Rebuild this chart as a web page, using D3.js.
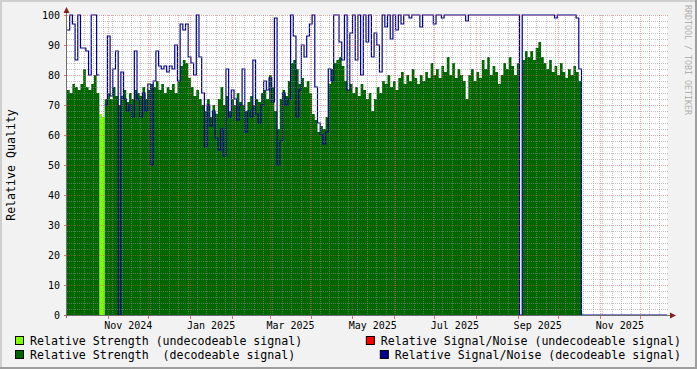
<!DOCTYPE html>
<html><head><meta charset="utf-8">
<script src="https://cdn.jsdelivr.net/npm/d3@7"></script>
<style>html,body{margin:0;padding:0;background:#f2f2f2;}svg{display:block;}text{white-space:pre;}</style>
</head><body><svg id="c" width="697" height="369"></svg>
<script>
// ---- data (one sample every 2 days, starting 2024-10-01 12:00 UTC) ----
const sampleStart = "2024-10-01T12:00:00Z";
const sampleStepDays = 2;
const rangeEnd = "2025-12-21T00:00:00Z";

const strengthDecodable = [
  75,74,77,76,75,77,82,76,75,77,
  80,74,null,null,72,74,72,76,73,70,
  73,75,71,74,72,75,74,73,76,72,
  75,77,76,78,75,77,74,76,75,77,
  74,78,83,85,84,79,76,73,75,72,
  70,68,72,66,70,67,72,76,70,73,
  68,72,70,74,71,70,68,71,73,70,
  72,71,74,75,72,80,76,68,62,72,
  75,73,78,84,85,82,77,79,76,78,
  74,67,65,61,63,62,66,77,82,84,
  85,86,83,78,75,77,74,76,73,77,
  75,72,74,68,72,76,74,78,77,80,
  76,78,75,79,81,77,80,78,82,79,
  77,80,78,81,79,84,80,82,79,83,
  81,86,80,84,79,82,80,78,72,80,
  82,78,81,79,85,82,86,80,83,81,
  77,80,84,82,86,83,80,84,null,85,
  88,86,88,85,89,91,86,84,82,85,
  81,83,80,84,81,79,82,80,83,81,
  78
];
// [sample index, value] – only a few samples were undecodeable
const strengthUndecodable = [[12, 67], [13, 66]];

const snrDecodable = [
  95,100,97,85,100,89,89,88,80,100,
  100,80,null,null,70,93,73,82,88,0,
  81,72,68,70,66,88,72,66,74,68,
  77,50,78,88,83,82,83,81,83,82,
  90,78,97,95,97,86,84,80,100,86,
  74,56,70,63,68,59,55,62,53,82,
  66,75,72,65,70,82,61,68,66,85,
  67,64,70,78,75,79,71,99,50,58,
  74,70,72,100,93,66,75,90,86,93,
  97,100,76,64,60,57,61,82,78,100,
  100,91,85,100,75,94,100,85,100,80,
  100,91,100,86,94,90,81,100,96,100,
  92,100,95,100,97,100,100,99,100,100,
  100,96,100,100,100,100,97,100,100,99,
  100,100,100,100,100,100,100,100,98,100,
  100,100,100,100,100,100,100,100,100,100,
  100,100,100,100,100,100,100,100,0,100,
  100,100,100,100,100,100,100,100,100,100,
  100,99,100,100,100,100,100,100,100,99,
  82,
  0,0,0,0,0,0,0,0,0,0,0,0,0,0,0,0,
  0,0,0,0,0,0,0,0,0,0,0,0,0,0,0,0
];
const snrUndecodable = []; // no undecodeable S/N samples in range

const yTickValues = [0,10,20,30,40,50,60,70,80,90,100];
const xLabels = ["Nov 2024","Jan 2025","Mar 2025","May 2025","Jul 2025","Sep 2025","Nov 2025"];

const legendItems = [
  {label:"Relative Strength (undecodeable signal)", color:"#80ff00", row:0, side:"left"},
  {label:"Relative Signal/Noise (undecodeable signal)", color:"#ff0000", row:0, side:"right"},
  {label:"Relative Strength  (decodeable signal)", color:"#006600", row:1, side:"left"},
  {label:"Relative Signal/Noise (decodeable signal)", color:"#000090", row:1, side:"right"}
];

// ---- layout ----
const W = 697, H = 369;
const L = 67, R = 667, T = 15, B = 315;
const svg = d3.select("#c");
const FONT = "'DejaVu Sans Mono', monospace";

const t0 = new Date(sampleStart);
const tEnd = new Date(rangeEnd);
const tOf = k => d3.utcDay.offset(t0, k * sampleStepDays);
const x = d3.scaleUtc().domain([t0, tEnd]).range([L, R]);
const y = d3.scaleLinear().domain([0, 100]).range([B, T]);

// background + frame
svg.append("rect").attr("width", W).attr("height", H).attr("fill", "#f2f2f2");
svg.append("rect").attr("x",0).attr("y",0).attr("width",W).attr("height",2).attr("fill","#cfcfcf");
svg.append("rect").attr("x",0).attr("y",0).attr("width",2).attr("height",H).attr("fill","#cfcfcf");
svg.append("rect").attr("x",0).attr("y",H-2).attr("width",W).attr("height",2).attr("fill","#9e9e9e");
svg.append("rect").attr("x",W-2).attr("y",0).attr("width",2).attr("height",H).attr("fill","#9e9e9e");
// canvas
svg.append("rect").attr("x", L).attr("y", T).attr("width", R - L).attr("height", B - T).attr("fill", "#fff");

svg.append("clipPath").attr("id","plot").append("rect")
  .attr("x", L).attr("y", T - 2).attr("width", R - L).attr("height", B - T + 3);

function stepPoints(values) {
  const pts = [];
  values.forEach((v, k) => {
    if (v == null) { pts.push({t: tOf(k), v: null}); return; }
    pts.push({t: tOf(k), v});
    if (values[k + 1] == null) { pts.push({t: tOf(k + 1), v}); pts.push({t: tOf(k + 1), v: null}); }
  });
  return pts;
}
const undecArr = strengthDecodable.map(() => null);
strengthUndecodable.forEach(([k, v]) => { undecArr[k] = v; });

const area = d3.area().curve(d3.curveStepAfter)
  .defined(d => d.v != null).x(d => x(d.t)).y0(y(0)).y1(d => y(d.v));
const line = d3.line().curve(d3.curveStepAfter)
  .defined(d => d.v != null).x(d => x(d.t)).y(d => y(d.v));

const gPlot = svg.append("g").attr("clip-path", "url(#plot)");
gPlot.append("path").attr("d", area(stepPoints(undecArr))).attr("fill", legendItems[0].color);
gPlot.append("path").attr("d", area(stepPoints(strengthDecodable))).attr("fill", legendItems[2].color);

// grid
const minorCol = "rgba(143,143,143,0.55)", majorCol = "rgba(222,79,79,0.5)";
const gGrid = svg.append("g").attr("stroke-dasharray", "1,1").attr("stroke-width", 1);
const px = v => Math.round(v) + 0.5;
d3.range(2, 101, 2).filter(v => v % 10 !== 0).forEach(v => {
  gGrid.append("line").attr("x1", L).attr("x2", R + 1).attr("y1", px(y(v))).attr("y2", px(y(v)))
    .attr("stroke", minorCol);
});
d3.utcMonday.range(t0, tEnd).forEach(d => {
  if (d.getUTCDate() === 1) return;
  gGrid.append("line").attr("x1", px(x(d))).attr("x2", px(x(d))).attr("y1", T).attr("y2", B)
    .attr("stroke", minorCol);
});
yTickValues.filter(v => v > 0).forEach(v => {
  gGrid.append("line").attr("x1", L).attr("x2", R + 1).attr("y1", px(y(v))).attr("y2", px(y(v)))
    .attr("stroke", majorCol);
});
const months = d3.utcMonth.range(d3.utcMonth.ceil(t0), tEnd);
months.forEach(d => {
  gGrid.append("line").attr("x1", px(x(d))).attr("x2", px(x(d))).attr("y1", T).attr("y2", B)
    .attr("stroke", majorCol);
});

// axes
const axisCol = "#6f6f6f";
svg.append("line").attr("x1", L - 0.5).attr("x2", L - 0.5).attr("y1", B + 3).attr("y2", T - 6).attr("stroke", axisCol);
svg.append("line").attr("x1", L - 3).attr("x2", R + 4).attr("y1", B + 0.5).attr("y2", B + 0.5).attr("stroke", axisCol);
yTickValues.forEach(v => {
  svg.append("line").attr("x1", L - 3).attr("x2", L - 1).attr("y1", px(y(v))).attr("y2", px(y(v)))
    .attr("stroke", "rgba(222,79,79,0.8)");
});
months.forEach(d => {
  svg.append("line").attr("x1", px(x(d))).attr("x2", px(x(d))).attr("y1", B + 1).attr("y2", B + 4)
    .attr("stroke", "rgba(222,79,79,0.8)");
});
svg.append("path").attr("d", `M${L-3.5},${T-2}L${L+2.5},${T-2}L${L-0.5},${T-8}Z`).attr("fill", "#802020");
svg.append("path").attr("d", `M${R+3},${B-2.5}L${R+3},${B+3.5}L${R+9},${B+0.5}Z`).attr("fill", "#802020");

// S/N lines on top
gPlot.append("path").attr("d", line(stepPoints(snrUndecodable))).attr("fill", "none")
  .attr("stroke", legendItems[1].color).attr("stroke-width", 1.2);
gPlot.append("path").attr("d", line(stepPoints(snrDecodable))).attr("fill", "none")
  .attr("stroke", legendItems[3].color).attr("stroke-width", 1.2);

// y labels
svg.append("g").selectAll("text").data(yTickValues).join("text")
  .attr("x", 60).attr("y", v => y(v) + 3.8).attr("text-anchor", "end")
  .attr("font-family", FONT).attr("font-size", 10).attr("fill", "#000").text(v => v);
// x labels at mid-month
const parseM = d3.utcParse("%b %Y");
svg.append("g").selectAll("text").data(xLabels).join("text")
  .attr("x", s => { const m = parseM(s); return (x(m) + x(d3.utcMonth.offset(m, 1))) / 2; })
  .attr("y", 328.5).attr("text-anchor", "middle")
  .attr("font-family", FONT).attr("font-size", 10).attr("fill", "#000").text(s => s);

// y title
svg.append("text").attr("transform", "translate(14.5,165) rotate(-90)").attr("text-anchor", "middle")
  .attr("font-family", FONT).attr("font-size", 11.6).attr("fill", "#000").text("Relative Quality");
// watermark
svg.append("text").attr("transform", "translate(685,5) rotate(90)").attr("text-anchor", "start")
  .attr("font-family", FONT).attr("font-size", 8.3).attr("fill", "#b0b0b0").text("RRDTOOL / TOBI OETIKER");

// legend
const rowY = [345, 359];
const gLeg = svg.append("g").attr("font-family", FONT).attr("font-size", 11.6);
legendItems.forEach(it => {
  const yb = rowY[it.row];
  let tx;
  if (it.side === "left") tx = 30;
  else {
    const tmp = gLeg.append("text").text(it.label);
    const w = tmp.node().getComputedTextLength(); tmp.remove();
    tx = 681 - w;
  }
  gLeg.append("rect").attr("x", tx - 14.5).attr("y", yb - 8.5).attr("width", 8).attr("height", 8)
    .attr("fill", it.color).attr("stroke", "#000").attr("stroke-width", 1);
  gLeg.append("text").attr("x", tx).attr("y", yb).attr("fill", "#000").text(it.label);
});
</script></body></html>
